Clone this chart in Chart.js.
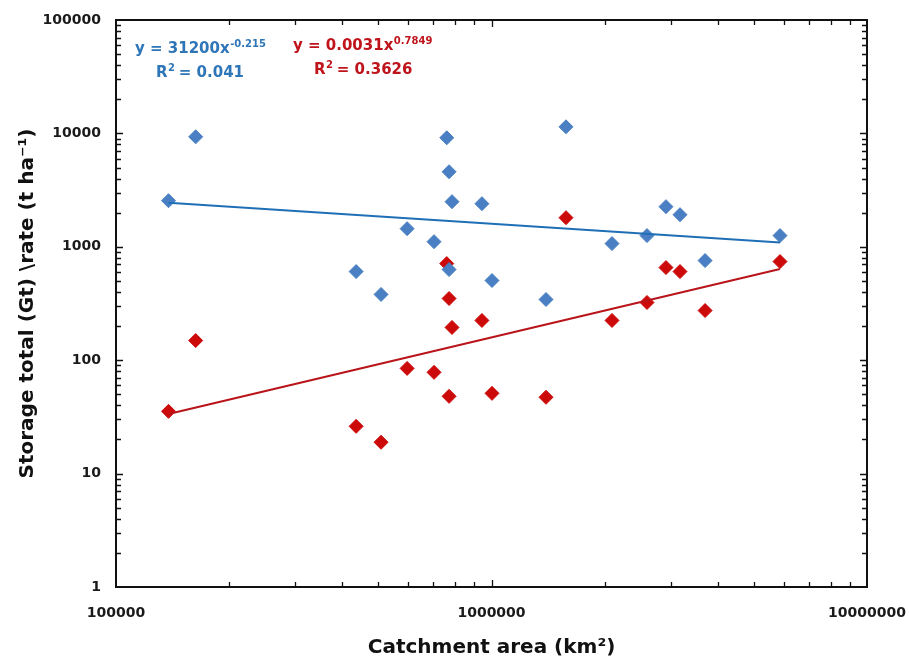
<!DOCTYPE html>
<html>
<head>
<meta charset="utf-8">
<script src="https://cdn.jsdelivr.net/npm/chart.js@4.4.1/dist/chart.umd.min.js"></script>
<style>
  html, body { margin: 0; padding: 0; background: #fff; }
</style>
</head>
<body>
<canvas id="chart" width="909" height="664"></canvas>
<script>
// catchment area (km2) shared by both series
const catchmentArea = [138000, 163000, 436000, 508000, 596000, 703000, 760000, 771000, 785000, 771000,
                       943000, 1003000, 1397000, 1579000, 2094000, 2595000, 2915000, 3177000, 3705000, 5866000];
// storage total (Gt)
const storageTotal = [2550, 9330, 605, 380, 1445, 1110, 9150, 4590, 2500, 630,
                      2400, 504, 343, 11430, 1067, 1255, 2260, 1920, 756, 1255];
// storage rate (t/ha)
const storageRate = [35.4, 149, 26.1, 18.9, 84.7, 78.1, 711, 350, 194.5, 48,
                     224, 51, 47.1, 1807, 224, 323, 656, 605, 274, 741];
// power-law fits y = a * x^b  [a, b, R2]
const totalFit = [31200, -0.215, 0.041];
const rateFit = [0.0031, 0.7849, 0.3626];

const xDecades = [100000, 1000000, 10000000];
const yDecades = [1, 10, 100, 1000, 10000, 100000];

const BLUE = '#4a80c3', RED = '#cc0a0a';
const BLUE_LINE = '#1f6fb6', RED_LINE = '#b8141a';
const BLUE_TEXT = '#2e76b7', RED_TEXT = '#c0141c';
const FONT = '"DejaVu Sans", sans-serif';

function toPoints(xs, ys) {
  return xs.map(function (x, i) { return { x: x, y: ys[i] }; });
}

// two end points of each fit line, over the range of the data
function fitLine(fit) {
  const lo = Math.min.apply(null, catchmentArea), hi = Math.max.apply(null, catchmentArea);
  return [lo, hi].map(function (x) { return { x: x, y: fit[0] * Math.pow(x, fit[1]) }; });
}

// 1..9 per decade, for the log tick marks
function logTicks(decades) {
  const out = [];
  decades.forEach(function (d, i) {
    if (i === decades.length - 1) { out.push(d); return; }
    for (let m = 1; m <= 9; m++) out.push(d * m);
  });
  return out;
}

function isDecade(v) {
  const l = Math.log10(v);
  return Math.abs(l - Math.round(l)) < 1e-9;
}

// frame with inward ticks on all four sides
const frameTicks = {
  id: 'frameTicks',
  afterDraw(chart) {
    const ctx = chart.ctx, a = chart.chartArea;
    const xs = chart.scales.x, ys = chart.scales.y;
    ctx.save();
    ctx.strokeStyle = '#111';
    ctx.lineWidth = 1.3;
    ctx.beginPath();
    xs.ticks.forEach(function (t) {
      if (t.value <= xs.min || t.value >= xs.max) return;
      const px = Math.round(xs.getPixelForValue(t.value)) + 0.5;
      const len = isDecade(t.value) ? 7 : 5;
      ctx.moveTo(px, a.bottom); ctx.lineTo(px, a.bottom - len);
      ctx.moveTo(px, a.top); ctx.lineTo(px, a.top + len);
    });
    ys.ticks.forEach(function (t) {
      if (t.value <= ys.min || t.value >= ys.max) return;
      const py = Math.round(ys.getPixelForValue(t.value)) + 0.5;
      const len = isDecade(t.value) ? 7 : 5;
      ctx.moveTo(a.left, py); ctx.lineTo(a.left + len, py);
      ctx.moveTo(a.right, py); ctx.lineTo(a.right - len, py);
    });
    ctx.stroke();
    ctx.lineWidth = 2;
    ctx.strokeRect(a.left, a.top, a.right - a.left, a.bottom - a.top);
    ctx.restore();
  }
};

// fit equations with superscript exponents
function drawPower(ctx, x, y, base, exp, color) {
  ctx.fillStyle = color;
  ctx.textBaseline = 'middle';
  ctx.textAlign = 'left';
  ctx.font = 'bold 15px ' + FONT;
  ctx.fillText(base, x, y);
  const w = ctx.measureText(base).width;
  ctx.font = 'bold 10px ' + FONT;
  ctx.fillText(exp, x + w + 0.5, y - 5);
}

const fitLabels = {
  id: 'fitLabels',
  afterDraw(chart) {
    const ctx = chart.ctx;
    ctx.save();
    drawPower(ctx, 135, 49, 'y = ' + totalFit[0] + 'x', String(totalFit[1]), BLUE_TEXT);
    drawPower(ctx, 156, 73, 'R', '2', BLUE_TEXT);
    ctx.font = 'bold 15px ' + FONT;
    ctx.fillText(' = ' + totalFit[2], 156 + ctx.measureText('R').width + 6, 73);
    drawPower(ctx, 293, 46, 'y = ' + rateFit[0] + 'x', String(rateFit[1]), RED_TEXT);
    drawPower(ctx, 314, 70, 'R', '2', RED_TEXT);
    ctx.font = 'bold 15px ' + FONT;
    ctx.fillText(' = ' + rateFit[2], 314 + ctx.measureText('R').width + 6, 70);
    ctx.restore();
  }
};

const tickFont = { family: FONT, size: 14, weight: 'bold' };

// keep the plot box fixed: no extra room for the end labels
function noPad(s) { s.paddingLeft = s.paddingRight = s.paddingTop = s.paddingBottom = 0; }

new Chart(document.getElementById('chart'), {
  type: 'scatter',
  data: {
    datasets: [
      { label: 'Total fit', type: 'line', data: fitLine(totalFit), borderColor: BLUE_LINE, borderWidth: 2,
        pointRadius: 0, fill: false, order: 0 },
      { label: 'Rate fit', type: 'line', data: fitLine(rateFit), borderColor: RED_LINE, borderWidth: 2,
        pointRadius: 0, fill: false, order: 0 },
      { label: 'Storage total (Gt)', data: toPoints(catchmentArea, storageTotal), pointStyle: 'rectRot',
        pointRadius: 7, backgroundColor: BLUE, borderColor: BLUE, borderWidth: 1, order: 1 },
      { label: 'Storage rate (t/ha)', data: toPoints(catchmentArea, storageRate), pointStyle: 'rectRot',
        pointRadius: 7, backgroundColor: RED, borderColor: RED, borderWidth: 1, order: 2 }
    ]
  },
  options: {
    responsive: false,
    animation: false,
    devicePixelRatio: 1,
    layout: { padding: { left: 0, right: 42, top: 20, bottom: 0 } },
    plugins: { legend: { display: false }, tooltip: { enabled: false } },
    scales: {
      x: {
        type: 'logarithmic', min: xDecades[0], max: xDecades[xDecades.length - 1],
        afterBuildTicks: function (s) { s.ticks = logTicks(xDecades).map(function (v) { return { value: v }; }); },
        afterFit: function (s) { s.height = 77; noPad(s); },
        grid: { display: false, drawTicks: false },
        border: { display: false },
        ticks: {
          autoSkip: false, maxRotation: 0, minRotation: 0, padding: 18, color: '#1a1a1a', font: tickFont,
          callback: function (v) { return isDecade(v) ? String(v) : ''; }
        },
        title: { display: true, text: 'Catchment area (km²)', color: '#111',
                 font: { family: FONT, size: 20, weight: 'bold' }, padding: { top: 0, bottom: 4 } }
      },
      y: {
        type: 'logarithmic', min: yDecades[0], max: yDecades[yDecades.length - 1],
        afterBuildTicks: function (s) { s.ticks = logTicks(yDecades).map(function (v) { return { value: v }; }); },
        afterFit: function (s) { s.width = 116; noPad(s); },
        grid: { display: false, drawTicks: false },
        border: { display: false },
        ticks: {
          autoSkip: false, padding: 15, color: '#1a1a1a', font: tickFont,
          callback: function (v) { return isDecade(v) ? String(v) : ''; }
        },
        title: { display: true, text: 'Storage total (Gt) \\rate (t ha⁻¹)', color: '#111',
                 font: { family: FONT, size: 20, weight: 'bold' }, padding: { top: 16, bottom: 0 } }
      }
    }
  },
  plugins: [frameTicks, fitLabels]
});
</script>
</body>
</html>
